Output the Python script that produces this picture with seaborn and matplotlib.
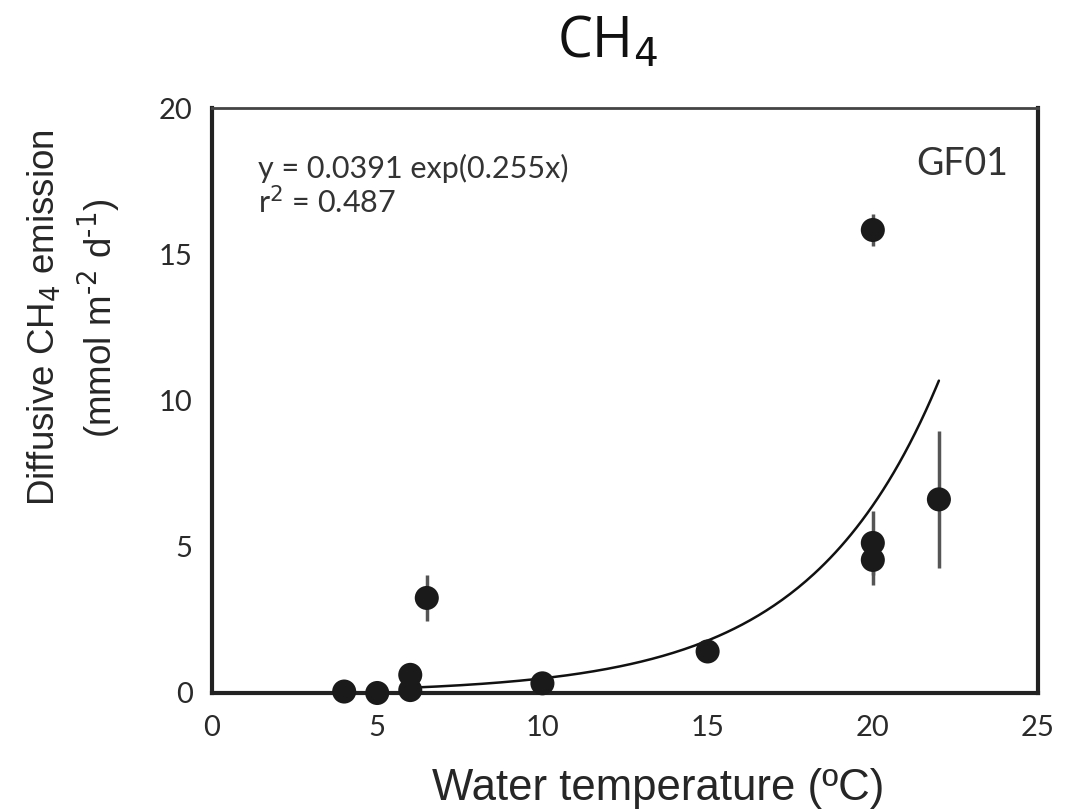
import numpy as np
import pandas as pd
import matplotlib
matplotlib.use("Agg")
import matplotlib.pyplot as plt
import seaborn as sns

# data
temp = [4, 5, 6, 6, 6.5, 10, 15, 20, 20, 20, 22]
flux = [0.05, 0.0, 0.1, 0.62, 3.25, 0.33, 1.42, 15.83, 5.13, 4.55, 6.62]
flux_err = [0, 0, 0, 0, 0.8, 0, 0, 0.55, 1.1, 0.85, 2.35]

# fitted model shown on the chart
fit_a = 0.0391
fit_b = 0.255
fit_range = [6, 22]

x_ticks = [0, 5, 10, 15, 20, 25]
y_ticks = [0, 5, 10, 15, 20]

df = pd.DataFrame({"temp": temp, "flux": flux, "err": flux_err})
fx = np.linspace(fit_range[0], fit_range[1], 200)
fit_df = pd.DataFrame({"temp": fx, "flux": fit_a * np.exp(fit_b * fx)})

sns.set_style("white")
plt.rcParams["font.family"] = ["Liberation Sans", "DejaVu Sans"]

fig = plt.figure(figsize=(10.73, 8.11), dpi=100)
ax = fig.add_axes([0.1976, 0.1455, 0.7698, 0.7213])

# error bars (only where there is an error)
eb = df[df["err"] > 0]
ax.errorbar(eb["temp"], eb["flux"], yerr=eb["err"], fmt="none",
            ecolor="#555555", elinewidth=2.5, capsize=0, zorder=2)

sns.lineplot(data=fit_df, x="temp", y="flux", color="#111111", lw=1.8,
             ax=ax, zorder=3)
sns.scatterplot(data=df, x="temp", y="flux", color="#1a1a1a", s=300,
                edgecolor="none", ax=ax, zorder=4, clip_on=False)

ax.set_xlim(0, 25)
ax.set_ylim(0, 20)
ax.set_xticks(x_ticks)
ax.set_yticks(y_ticks)
ax.tick_params(direction="in", length=6, width=1.5, color="#333333",
               labelsize=21, labelcolor="#2a2a2a")
ax.tick_params(axis="x", pad=16)
ax.tick_params(axis="y", pad=14)
for lab in ax.get_xticklabels() + ax.get_yticklabels():
    lab.set_family("Lato")

for side in ["left", "bottom", "right"]:
    ax.spines[side].set_linewidth(3)
    ax.spines[side].set_color("#222222")
ax.spines["top"].set_linewidth(2)
ax.spines["top"].set_color("#444444")

ax.set_xlabel("Water temperature (ºC)", fontsize=31.5, va="center")
ax.xaxis.set_label_coords(0.54, -0.163)
ax.set_ylabel("Diffusive CH$_4$ emission\n(mmol m$^{\\text{-2}}$ d$^{\\text{-1}}$)",
              fontsize=26.5, linespacing=1.35, va="center")
ax.yaxis.set_label_coords(-0.167, 0.641)

ax.text(0.056, 0.897, "y = 0.0391 exp(0.255x)", transform=ax.transAxes,
        fontsize=22, family="Lato", color="#333333", va="center")
ax.text(0.056, 0.839, "r$^2$ = 0.487", transform=ax.transAxes,
        fontsize=22, family="Lato", color="#333333", va="center")
ax.text(0.964, 0.905, "GF01", transform=ax.transAxes, ha="right",
        fontsize=27, family="Lato", color="#333333", va="center")

fig.text(0.566, 0.948, "CH$_4$", ha="center", va="center", fontsize=40,
         family="Open Sans", color="#111111")

fig.savefig("out.png", dpi=100)
